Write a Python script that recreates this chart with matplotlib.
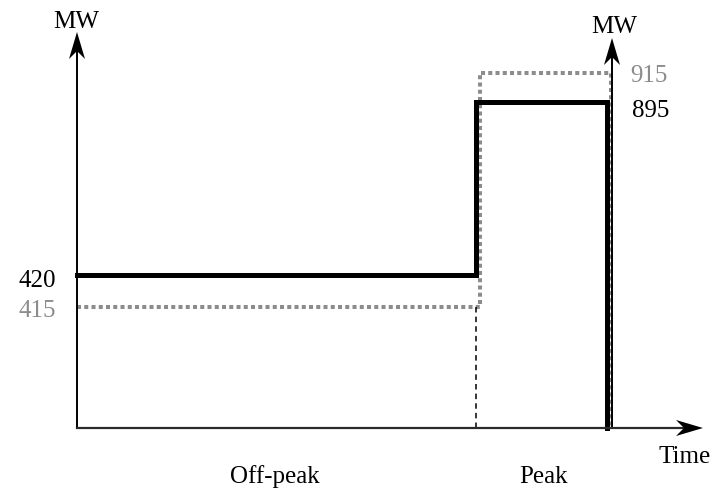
import matplotlib
matplotlib.use("Agg")
import matplotlib.pyplot as plt
from matplotlib.patches import Polygon

################################################################################
# data                                                                         #
################################################################################
periods = ["Off-peak", "Peak"]
solidMw = [420, 895]     # black solid profile
dottedMw = [415, 915]    # grey dotted profile
# the sketch is not drawn to scale: drawn heights of each level
solidLevel = [153, 326.5]
dottedLevel = [121, 355]
# period boundaries along the time axis (start, peak start, peak end)
solidEdges = [0, 399, 530]
dottedEdges = [0, 403, 533.5]

grey = "#8c8c8c"
plt.rcParams["font.family"] = ["Liberation Serif", "DejaVu Serif"]
fontSize = 18

fig = plt.figure(figsize=(7.15, 4.91), dpi=100)
ax = fig.add_axes([0, 0, 1, 1])
ax.set_xlim(-77, 638)
ax.set_ylim(-63, 428)
ax.axis("off")


def arrowHead(x, y, direction):
    # stealth-style arrow head with its tip at (x, y)
    if direction == "up":
        pts = [(x, y), (x - 8, y - 27), (x, y - 19), (x + 8, y - 27)]
    else:
        pts = [(x, y), (x - 27, y - 8), (x - 19, y), (x - 27, y + 8)]
    ax.add_patch(Polygon(pts, closed=True, color="black", lw=0, zorder=5))


# axes
leftTip = 396
rightTip = 390
timeTip = 626
rightAxisX = 535
ax.plot([0, 0], [0, leftTip - 15], color="black", lw=1.4, zorder=4)
arrowHead(0, leftTip, "up")
ax.plot([rightAxisX, rightAxisX], [0, rightTip - 15], color="black", lw=1.4, zorder=4)
arrowHead(rightAxisX, rightTip, "up")
ax.plot([0, timeTip - 15], [0, 0], color="#2b2b2b", lw=1.6, zorder=4)
arrowHead(timeTip, 0, "right")

# grey dotted profile
ax.plot(
    [dottedEdges[0], dottedEdges[1], dottedEdges[1], dottedEdges[2], dottedEdges[2]],
    [dottedLevel[0], dottedLevel[0], dottedLevel[1], dottedLevel[1], 0],
    color=grey, lw=2.9, dashes=(1, 0.8), dash_capstyle="butt", zorder=2,
)

# black solid profile
ax.plot(
    [solidEdges[0], solidEdges[1], solidEdges[1], solidEdges[2], solidEdges[2]],
    [solidLevel[0], solidLevel[0], solidLevel[1], solidLevel[1], 0],
    color="black", lw=3.6, solid_joinstyle="miter", zorder=3,
)

# thin dashed marker at the start of the peak
ax.plot([solidEdges[1], solidEdges[1]], [0, dottedLevel[0]],
        color="black", lw=1.1, dashes=(3.6, 2.7), zorder=3)

# value labels
ax.text(-40, 141, str(solidMw[0]), ha="center", va="baseline",
        fontsize=fontSize, color="black")
ax.text(-40, 111, str(dottedMw[0]), ha="center", va="baseline",
        fontsize=fontSize, color=grey)
ax.text(553, 346, str(dottedMw[1]), ha="left", va="baseline",
        fontsize=fontSize, color=grey)
ax.text(555, 311, str(solidMw[1]), ha="left", va="baseline",
        fontsize=fontSize, color="black")

# axis titles
ax.text(-1, 400, "MW", ha="center", va="baseline", fontsize=fontSize)
ax.text(rightAxisX + 2, 395, "MW", ha="center", va="baseline", fontsize=fontSize)
ax.text(608, -35, "Time", ha="center", va="baseline", fontsize=fontSize)
ax.text(198, -55, periods[0], ha="center", va="baseline", fontsize=fontSize)
ax.text(466, -55, periods[1], ha="center", va="baseline", fontsize=fontSize)

fig.savefig("out.png", dpi=100)
